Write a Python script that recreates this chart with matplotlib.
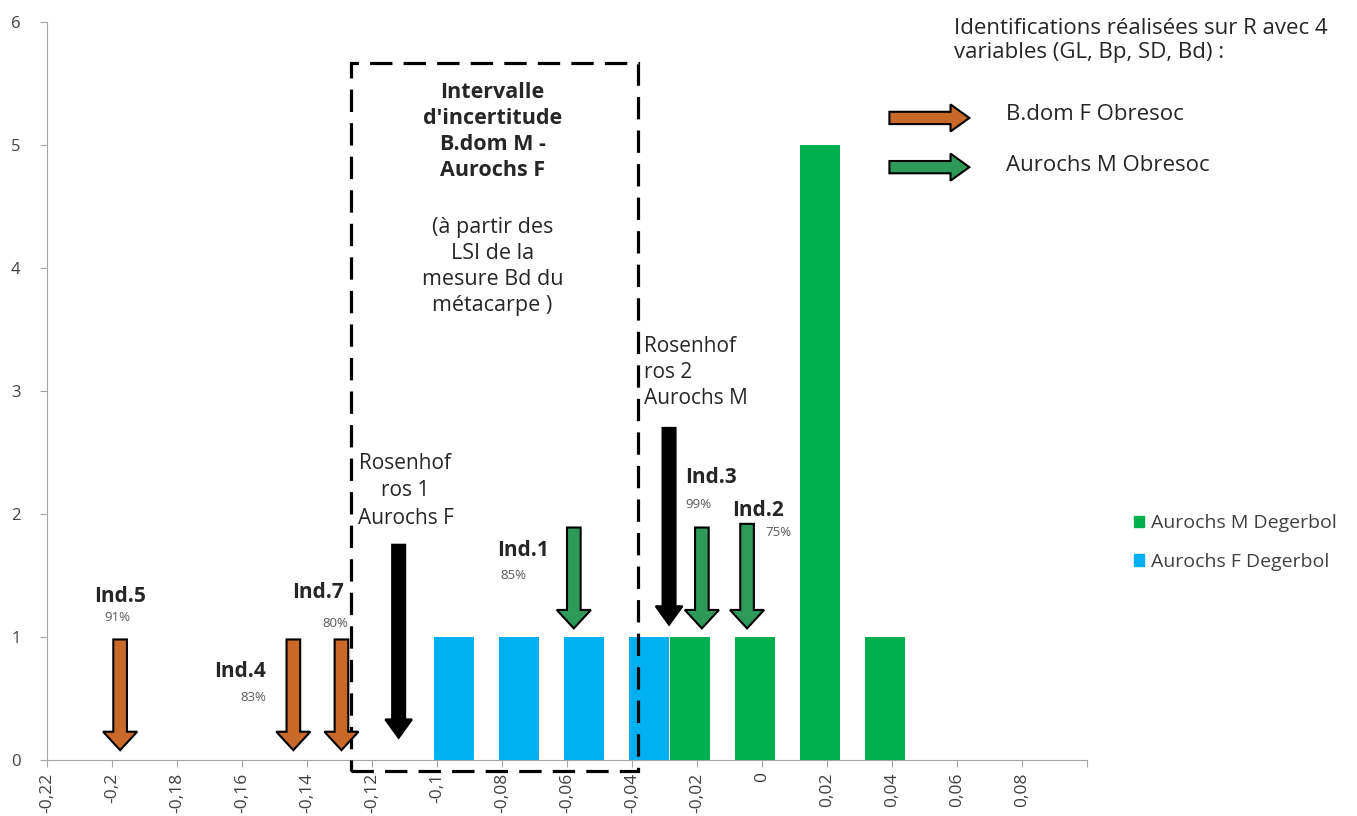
import numpy as np
import matplotlib
matplotlib.use('Agg')
import matplotlib.pyplot as plt
from matplotlib.patches import FancyArrow, Rectangle, Patch
from matplotlib.ticker import FixedLocator, FuncFormatter

plt.rcParams['font.family'] = ['Open Sans', 'DejaVu Sans']

# histogram classes (LSI) and counts
classes = [-0.0885, -0.0685, -0.0485, -0.0285, -0.0085, 0.0115, 0.0315]
aurochs_f = [1, 1, 1, 1, 0, 0, 0]
aurochs_m = [0, 0, 0, 1, 1, 5, 1]

# identified individuals: label, percent, x position, arrow top, arrow tip, group
ind_names = ['Ind.5', 'Ind.4', 'Ind.7', 'Ind.1', 'Ind.3', 'Ind.2']
ind_pct = ['91%', '83%', '80%', '85%', '99%', '75%']
ind_x = [-0.1975, -0.1442, -0.1294, -0.0579, -0.0185, -0.0046]
ind_top = [0.98, 0.98, 0.98, 1.89, 1.89, 1.92]
ind_tip = [0.08, 0.08, 0.08, 1.07, 1.07, 1.07]
ind_group = ['bdom', 'bdom', 'bdom', 'aur', 'aur', 'aur']

# Rosenhof references
ros_x = [-0.1118, -0.0286]
ros_top = [1.75, 2.70]
ros_tip = [0.18, 1.10]

xticks = np.round(np.arange(-0.22, 0.1001, 0.02), 2)

c_blue = '#00B0F0'
c_green = '#00B050'
c_orange = '#C8692A'
c_agreen = '#2E9A5A'
c_text = '#262626'

fig = plt.figure(figsize=(13.57, 8.16), dpi=100)
ax = fig.add_axes([47/1357, 1-760/816, (1087-47)/1357, (760-22)/816])

w = 0.0123
off = 0.0062
ax.bar(np.array(classes) - off, aurochs_f, width=w, color=c_blue, zorder=2,
       label='Aurochs F Degerbol')
ax.bar(np.array(classes) + off, aurochs_m, width=w, color=c_green, zorder=2,
       label='Aurochs M Degerbol')

ax.set_xlim(-0.22, 0.1)
ax.set_ylim(0, 6)
ax.xaxis.set_major_locator(FixedLocator(xticks))
ax.yaxis.set_major_locator(FixedLocator(range(7)))

def fmt_x(v, pos):
    if abs(v - 0.1) < 1e-6:
        return ''
    if abs(v) < 1e-9:
        return '0'
    return ('%g' % round(v, 2)).replace('.', ',')

ax.xaxis.set_major_formatter(FuncFormatter(fmt_x))
for lab in ax.get_xticklabels():
    lab.set_rotation(90)
ax.tick_params(axis='x', labelsize=12.5, colors='#A6A6A6', labelcolor='#404040',
               length=5, pad=4)
ax.tick_params(axis='y', labelsize=12, colors='#A6A6A6', labelcolor='#404040',
               length=5, pad=14)
for s in ['top', 'right']:
    ax.spines[s].set_visible(False)
for s in ['left', 'bottom']:
    ax.spines[s].set_color('#A6A6A6')

# dashed uncertainty box
box = Rectangle((-0.1266, -0.09), -0.0382 + 0.1266, 5.67 + 0.09, fill=False,
                ec='black', lw=2.3, ls=(0, (7, 3.5)), zorder=5, clip_on=False)
ax.add_patch(box)

def down_arrow(x, top, tip, color, shaft, head, hl):
    a = FancyArrow(x, top, 0, tip - top, width=shaft, head_width=head,
                   head_length=hl, length_includes_head=True, fc=color,
                   ec='black', lw=1.5, zorder=6)
    ax.add_patch(a)

for x, t, b, g in zip(ind_x, ind_top, ind_tip, ind_group):
    down_arrow(x, t, b, c_orange if g == 'bdom' else c_agreen, 0.0042, 0.0105, 0.15)
for x, t, b in zip(ros_x, ros_top, ros_tip):
    down_arrow(x, t, b, 'black', 0.0040, 0.0082, 0.15)

# individual labels
ind_lab_pos = [(-0.1975, 1.33), (-0.1605, 0.72), (-0.1365, 1.36),
               (-0.0736, 1.70), (-0.0157, 2.30), (-0.0012, 2.03)]
pct_pos = [(-0.1984, 1.16), (-0.1565, 0.51), (-0.1312, 1.11),
           (-0.0764, 1.50), (-0.0197, 2.08), (0.0050, 1.85)]
for n, p, (lx, ly), (px, py) in zip(ind_names, ind_pct, ind_lab_pos, pct_pos):
    ax.text(lx, ly, n, ha='center', va='center', fontsize=15,
            fontweight='bold', color=c_text, zorder=7)
    ax.text(px, py, p, ha='center', va='center', fontsize=9.5,
            color='#595959', zorder=7)

ax.text(-0.1097, 2.19, 'Rosenhof\nros 1\nAurochs F', ha='center', va='center',
        fontsize=15, color=c_text, linespacing=1.41)
ax.text(-0.0363, 3.15, 'Rosenhof\nros 2\nAurochs M', ha='left', va='center',
        fontsize=15, color=c_text, linespacing=1.34)

ax.text(-0.0829, 5.11, "Intervalle\nd'incertitude\nB.dom M -\nAurochs F",
        ha='center', va='center', fontsize=15.5, fontweight='bold',
        color=c_text, linespacing=1.32)
ax.text(-0.0829, 4.01, "(à partir des\nLSI de la\nmesure Bd du\nmétacarpe )",
        ha='center', va='center', fontsize=15.5, color=c_text,
        linespacing=1.32)

ax.text(0.0592, 5.85, 'Identifications réalisées sur R avec 4\nvariables (GL, Bp, SD, Bd) :',
        ha='left', va='center', fontsize=16, color=c_text,
        linespacing=1.18, clip_on=False)

# key arrows
for y, col in [(5.22, c_orange), (4.82, c_agreen)]:
    a = FancyArrow(0.0392, y, 0.0246, 0, width=0.1, head_width=0.22,
                   head_length=0.0058, length_includes_head=True, fc=col,
                   ec='black', lw=1.5, zorder=6)
    ax.add_patch(a)
ax.text(0.0752, 5.25, 'B.dom F Obresoc', ha='left', va='center',
        fontsize=16, color=c_text)
ax.text(0.0752, 4.83, 'Aurochs M Obresoc', ha='left', va='center',
        fontsize=16, color=c_text)

handles = [Patch(color=c_green, label='Aurochs M Degerbol'),
           Patch(color=c_blue, label='Aurochs F Degerbol')]
fig.legend(handles=handles, loc='upper left',
           bbox_to_anchor=(1116/1357, 1-497/816), frameon=False, fontsize=14,
           handlelength=0.55, handleheight=0.55, handletextpad=0.35,
           labelspacing=1.05, labelcolor='#404040')

fig.savefig('out.png', dpi=100)
